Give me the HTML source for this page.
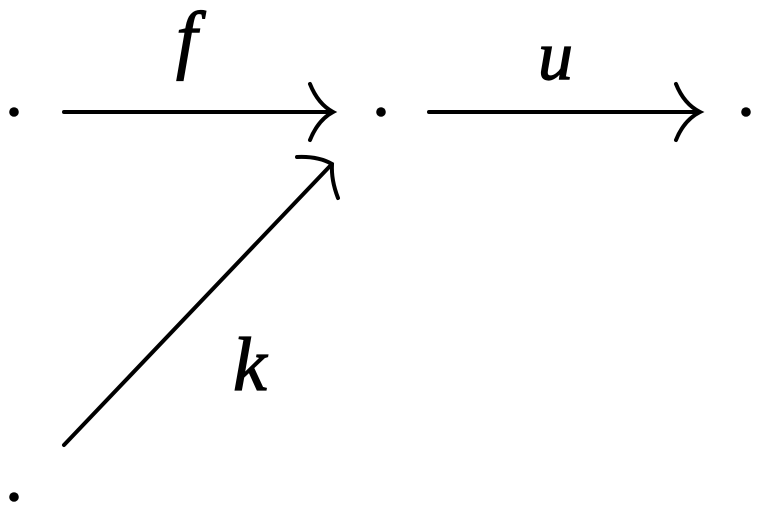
<!DOCTYPE html>
<html><head><style>
html,body{margin:0;padding:0;background:#fff;width:762px;height:512px;overflow:hidden}
</style></head><body>
<svg width="762" height="512" xmlns="http://www.w3.org/2000/svg">
<g fill="#000">
<circle cx="14" cy="112" r="4.8"/>
<circle cx="381" cy="112" r="4.8"/>
<circle cx="746" cy="112" r="4.8"/>
<circle cx="14" cy="497" r="4.8"/>
</g>
<g stroke="#000" stroke-width="4" fill="none" stroke-linecap="round">
<line x1="64" y1="112" x2="332" y2="112"/>
<path d="M310 84 Q318 104 333 112 Q318 120 310 140"/>
<line x1="429" y1="112" x2="699" y2="112"/>
<path d="M676 84 Q684 104 700 112 Q684 120 676 140"/>
<line x1="64" y1="445" x2="331" y2="165"/>
<path d="M297 157 Q318 156 332 164 Q331 180 338 198"/>
</g>
<g font-family="Liberation Serif, serif" font-style="italic" fill="#000" stroke="#000" stroke-width="1.2">
<text x="176" y="64" font-size="76">f</text>
<text x="538" y="79" font-size="70">u</text>
<text x="233" y="390" font-size="76">k</text>
</g>
</svg>
</body></html>
